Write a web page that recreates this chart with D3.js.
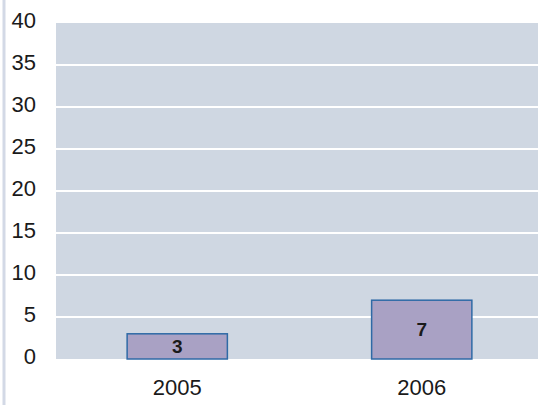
<!DOCTYPE html>
<html>
<head>
<meta charset="utf-8">
<script src="https://cdn.jsdelivr.net/npm/d3@7"></script>
<style>
  body { margin: 0; background: #fff; }
  text { font-family: "Liberation Sans", Arial, sans-serif; fill: #1a1a1a; }
</style>
</head>
<body>
<div id="chart"></div>
<script>
const years = ['2005', '2006'];
const counts = [3, 7];
const yTicks = [0, 5, 10, 15, 20, 25, 30, 35, 40];

const width = 538, height = 405;
const margin = {top: 23, bottom: 46, left: 56, right: -6};

const svg = d3.select('#chart').append('svg')
  .attr('width', width)
  .attr('height', height);

// thin light rule on the far left
svg.append('line')
  .attr('x1', 4).attr('x2', 4)
  .attr('y1', 0).attr('y2', height)
  .attr('stroke', '#d3d9e6')
  .attr('stroke-width', 3);

const x = d3.scaleBand().domain(years)
  .range([margin.left - 1, width - margin.right])
  .paddingInner(0.59).paddingOuter(0.295);
const y = d3.scaleLinear().domain([0, 40]).range([height - margin.bottom, margin.top]);

// plot background
svg.append('rect')
  .attr('x', margin.left)
  .attr('y', y(40))
  .attr('width', width - margin.left)
  .attr('height', y(0) - y(40))
  .attr('fill', '#cfd7e2');

// gridlines
svg.append('g').selectAll('line')
  .data(yTicks.filter(d => d > 0 && d < 40))
  .join('line')
  .attr('x1', margin.left).attr('x2', width)
  .attr('y1', d => y(d)).attr('y2', d => y(d))
  .attr('stroke', '#ffffff')
  .attr('stroke-width', 2);

// y axis labels
const yaxis = d3.axisLeft(y).tickValues(yTicks).tickSize(0).tickPadding(0);
svg.append('g')
  .attr('transform', 'translate(36,-3)')
  .call(yaxis)
  .call(g => g.select('.domain').remove())
  .selectAll('text')
  .style('font-size', '22px')
  .style('font-family', '"Liberation Sans", Arial, sans-serif')
  .attr('fill', '#1a1a1a');

// x axis labels
const xaxis = d3.axisBottom(x).tickSize(0).tickPadding(0);
svg.append('g')
  .attr('transform', `translate(0,${y(0) + 20})`)
  .call(xaxis)
  .call(g => g.select('.domain').remove())
  .selectAll('text')
  .style('font-size', '22px')
  .style('font-family', '"Liberation Sans", Arial, sans-serif')
  .attr('fill', '#1a1a1a');

const data = years.map((yr, i) => ({year: yr, value: counts[i]}));

// bars
svg.append('g').selectAll('rect')
  .data(data)
  .join('rect')
  .attr('x', d => x(d.year))
  .attr('y', d => y(d.value))
  .attr('width', x.bandwidth())
  .attr('height', d => y(0) - y(d.value))
  .attr('fill', '#a9a1c4')
  .attr('stroke', '#2f6aa6')
  .attr('stroke-width', 1.5);

// value labels
svg.append('g').selectAll('text')
  .data(data)
  .join('text')
  .attr('x', d => x(d.year) + x.bandwidth() / 2)
  .attr('y', d => (y(d.value) + y(0)) / 2)
  .attr('dy', '0.35em')
  .attr('text-anchor', 'middle')
  .style('font-size', '19px')
  .style('font-weight', 'bold')
  .text(d => d.value);
</script>
</body>
</html>
